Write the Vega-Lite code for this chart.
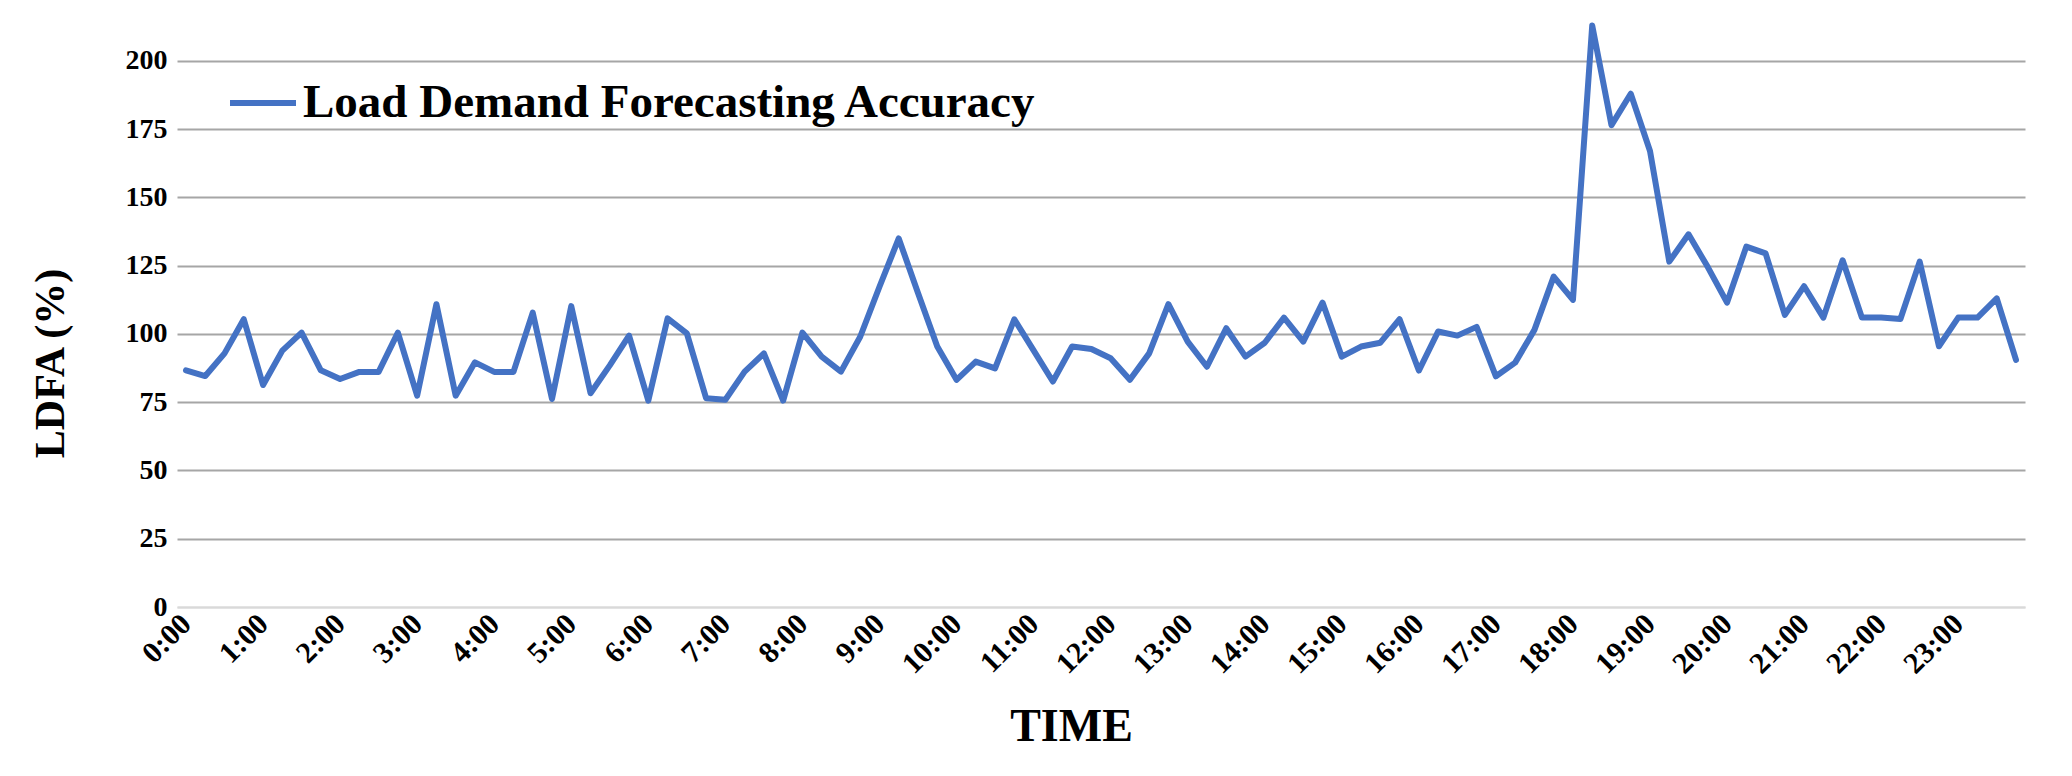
{
  "$schema": "https://vega.github.io/schema/vega-lite/v6.json",
  "autosize": "none",
  "width": 1848,
  "height": 587,
  "padding": {"left": 177, "top": 20, "right": 47, "bottom": 169},
  "background": "white",
  "config": {
    "view": {"stroke": null},
    "font": "Liberation Serif"
  },
  "data": {
    "values": [
      {"minute": 0, "LDFA": 86.7}, {"minute": 15, "LDFA": 84.6}, {"minute": 30, "LDFA": 92.9}, {"minute": 45, "LDFA": 105.4},
      {"minute": 60, "LDFA": 81.3}, {"minute": 75, "LDFA": 93.9}, {"minute": 90, "LDFA": 100.5}, {"minute": 105, "LDFA": 86.7},
      {"minute": 120, "LDFA": 83.5}, {"minute": 135, "LDFA": 86.1}, {"minute": 150, "LDFA": 86.1}, {"minute": 165, "LDFA": 100.5},
      {"minute": 180, "LDFA": 77.4}, {"minute": 195, "LDFA": 110.9}, {"minute": 210, "LDFA": 77.4}, {"minute": 225, "LDFA": 89.6},
      {"minute": 240, "LDFA": 86.1}, {"minute": 255, "LDFA": 86.1}, {"minute": 270, "LDFA": 107.8}, {"minute": 285, "LDFA": 76.2},
      {"minute": 300, "LDFA": 110.2}, {"minute": 315, "LDFA": 78.3}, {"minute": 330, "LDFA": 88.5}, {"minute": 345, "LDFA": 99.4},
      {"minute": 360, "LDFA": 75.6}, {"minute": 375, "LDFA": 105.7}, {"minute": 390, "LDFA": 100.2}, {"minute": 405, "LDFA": 76.5},
      {"minute": 420, "LDFA": 75.9}, {"minute": 435, "LDFA": 86.2}, {"minute": 450, "LDFA": 92.9}, {"minute": 465, "LDFA": 75.6},
      {"minute": 480, "LDFA": 100.5}, {"minute": 495, "LDFA": 91.7}, {"minute": 510, "LDFA": 86.2}, {"minute": 525, "LDFA": 99.0},
      {"minute": 540, "LDFA": 117.3}, {"minute": 555, "LDFA": 135.0}, {"minute": 570, "LDFA": 115.0}, {"minute": 585, "LDFA": 95.4},
      {"minute": 600, "LDFA": 83.2}, {"minute": 615, "LDFA": 89.9}, {"minute": 630, "LDFA": 87.4}, {"minute": 645, "LDFA": 105.4},
      {"minute": 660, "LDFA": 94.0}, {"minute": 675, "LDFA": 82.6}, {"minute": 690, "LDFA": 95.4}, {"minute": 705, "LDFA": 94.5},
      {"minute": 720, "LDFA": 91.1}, {"minute": 735, "LDFA": 83.2}, {"minute": 750, "LDFA": 92.9}, {"minute": 765, "LDFA": 110.9},
      {"minute": 780, "LDFA": 97.2}, {"minute": 795, "LDFA": 88.0}, {"minute": 810, "LDFA": 102.1}, {"minute": 825, "LDFA": 91.7},
      {"minute": 840, "LDFA": 96.8}, {"minute": 855, "LDFA": 106.0}, {"minute": 870, "LDFA": 97.2}, {"minute": 885, "LDFA": 111.5},
      {"minute": 900, "LDFA": 91.7}, {"minute": 915, "LDFA": 95.4}, {"minute": 930, "LDFA": 96.8}, {"minute": 945, "LDFA": 105.4},
      {"minute": 960, "LDFA": 86.6}, {"minute": 975, "LDFA": 100.9}, {"minute": 990, "LDFA": 99.4}, {"minute": 1005, "LDFA": 102.6},
      {"minute": 1020, "LDFA": 84.5}, {"minute": 1035, "LDFA": 89.5}, {"minute": 1050, "LDFA": 101.5}, {"minute": 1065, "LDFA": 121.0},
      {"minute": 1080, "LDFA": 112.5}, {"minute": 1095, "LDFA": 213.0}, {"minute": 1110, "LDFA": 176.5}, {"minute": 1125, "LDFA": 188.0},
      {"minute": 1140, "LDFA": 167.0}, {"minute": 1155, "LDFA": 126.5}, {"minute": 1170, "LDFA": 136.5}, {"minute": 1185, "LDFA": 124.5},
      {"minute": 1200, "LDFA": 111.5}, {"minute": 1215, "LDFA": 132.0}, {"minute": 1230, "LDFA": 129.5}, {"minute": 1245, "LDFA": 107.0},
      {"minute": 1260, "LDFA": 117.5}, {"minute": 1275, "LDFA": 106.0}, {"minute": 1290, "LDFA": 127.0}, {"minute": 1305, "LDFA": 106.0},
      {"minute": 1320, "LDFA": 106.0}, {"minute": 1335, "LDFA": 105.5}, {"minute": 1350, "LDFA": 126.5}, {"minute": 1365, "LDFA": 95.5},
      {"minute": 1380, "LDFA": 106.0}, {"minute": 1395, "LDFA": 106.0}, {"minute": 1410, "LDFA": 113.0}, {"minute": 1425, "LDFA": 90.5}
    ]
  },
  "mark": {"type": "line", "strokeWidth": 6, "strokeJoin": "round", "strokeCap": "round", "clip": false},
  "encoding": {
    "x": {
      "field": "minute",
      "type": "quantitative",
      "scale": {"domain": [-7, 1432], "nice": false, "zero": false},
      "axis": {
        "title": "TIME",
        "values": [0, 60, 120, 180, 240, 300, 360, 420, 480, 540, 600, 660, 720, 780, 840, 900, 960, 1020, 1080, 1140, 1200, 1260, 1320, 1380],
        "labelExpr": "floor(datum.value / 60) + ':00'",
        "labelAngle": -45,
        "labelAlign": "right",
        "labelBaseline": "middle",
        "labelPadding": 12,
        "labelFont": "Liberation Serif",
        "labelFontSize": 30,
        "labelFontWeight": "bold",
        "labelColor": "#000000",
        "labelOverlap": false,
        "labelFlush": false,
        "grid": false,
        "ticks": false,
        "domain": true,
        "domainColor": "#D9D9D9",
        "domainWidth": 2,
        "titleFont": "Liberation Serif",
        "titleFontSize": 46,
        "titleFontWeight": "bold",
        "titleColor": "#000000",
        "titleX": 894,
        "titleY": 133,
        "titleBaseline": "alphabetic",
        "titleAlign": "center"
      }
    },
    "y": {
      "field": "LDFA",
      "type": "quantitative",
      "scale": {"domain": [0, 215], "nice": false},
      "axis": {
        "title": "LDFA (%)",
        "values": [0, 25, 50, 75, 100, 125, 150, 175, 200],
        "labelFont": "Liberation Serif",
        "labelFontSize": 28,
        "labelFontWeight": "bold",
        "labelColor": "#000000",
        "labelPadding": 10,
        "grid": true,
        "gridColor": {"condition": {"test": "datum.value === 0", "value": "#D9D9D9"}, "value": "#A6A6A6"},
        "gridWidth": 2,
        "ticks": false,
        "domain": false,
        "titleFont": "Liberation Serif",
        "titleFontSize": 42,
        "titleFontWeight": "bold",
        "titleColor": "#000000",
        "titleX": -127,
        "titleY": 343,
        "titleBaseline": "middle",
        "titleAlign": "center",
        "titleAngle": -90
      }
    },
    "color": {
      "datum": "Load Demand Forecasting Accuracy",
      "type": "nominal",
      "scale": {"range": ["#4472C4"]},
      "legend": {
        "title": null,
        "orient": "none",
        "legendX": 50,
        "legendY": 47,
        "padding": 0,
        "symbolType": "stroke",
        "symbolSize": 4356,
        "symbolStrokeWidth": 6,
        "symbolStrokeColor": "#4472C4",
        "labelFont": "Liberation Serif",
        "labelFontSize": 47,
        "labelFontWeight": "bold",
        "labelColor": "#000000",
        "labelOffset": 4,
        "labelLimit": 0
      }
    }
  }
}
